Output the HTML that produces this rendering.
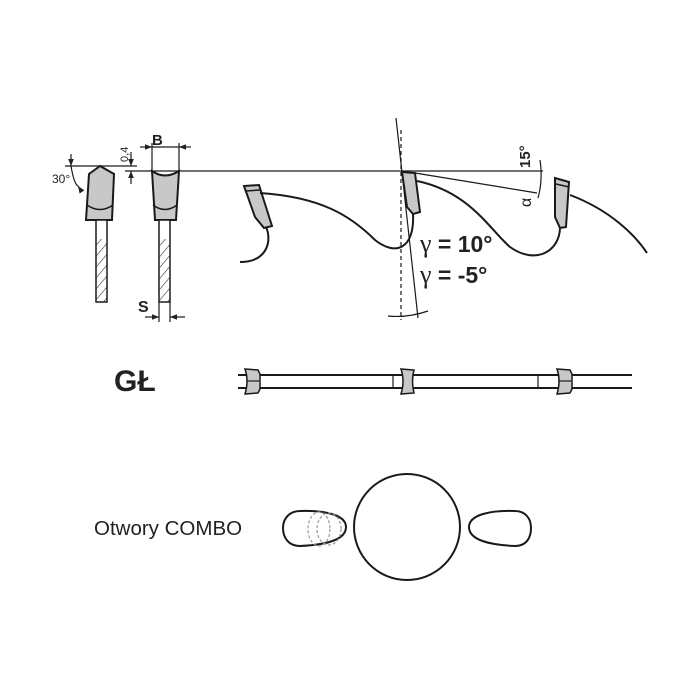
<!DOCTYPE html>
<html><head><meta charset="utf-8"><style>
html,body{margin:0;padding:0;background:#fff;width:700px;height:700px;overflow:hidden}
svg{display:block}
text{font-family:"Liberation Sans",sans-serif;fill:#222}
</style></head><body>
<svg width="700" height="700" viewBox="0 0 700 700" xmlns="http://www.w3.org/2000/svg">
<defs>
<pattern id="h" width="7" height="7" patternUnits="userSpaceOnUse" patternTransform="rotate(40)">
<line x1="0" y1="0" x2="0" y2="7" stroke="#333" stroke-width="1.2"/></pattern>
<marker id="a" viewBox="0 0 10 10" refX="10" refY="5" markerWidth="6" markerHeight="6" orient="auto-start-reverse"><path d="M0,1 L10,5 L0,9z" fill="#222"/></marker>
</defs>
<g stroke="#1a1a1a" fill="none" stroke-width="1.2">
<line x1="65" y1="166" x2="137" y2="166"/>
<line x1="125" y1="171" x2="543" y2="171"/>
<path d="M100,166 L89,174 L86,220 L112,220 L114,174 Z" fill="#c8c8c8" stroke-width="2"/>
<path d="M87,205 Q100,214 113,205" stroke-width="1.5"/>
<rect x="96" y="220" width="11" height="82" fill="#fff" stroke-width="1.5"/>
<rect x="96" y="239" width="11" height="63" fill="url(#h)" stroke="none"/>
<path d="M152,171 Q165,180 179,171 L176,220 L155,220 Z" fill="#c8c8c8" stroke-width="2"/>
<path d="M153,205 Q165,214 177,205" stroke-width="1.5"/>
<rect x="159" y="220" width="11" height="82" fill="#fff" stroke-width="1.5"/>
<rect x="159" y="239" width="11" height="63" fill="url(#h)" stroke="none"/>
<line x1="152" y1="143" x2="152" y2="171"/><line x1="179" y1="143" x2="179" y2="171"/>
<line x1="140" y1="147" x2="152" y2="147" marker-end="url(#a)"/><line x1="191" y1="147" x2="179" y2="147" marker-end="url(#a)"/>
<line x1="152" y1="147" x2="179" y2="147"/>
<line x1="131" y1="152" x2="131" y2="166" marker-end="url(#a)"/>
<line x1="131" y1="184" x2="131" y2="171" marker-end="url(#a)"/>
<line x1="71" y1="154" x2="71" y2="166" marker-end="url(#a)"/>
<path d="M71,166 Q74,184 78,186" />
<line x1="78" y1="186" x2="80" y2="189" marker-start="url(#a)"/>
<line x1="159" y1="302" x2="159" y2="322"/><line x1="170" y1="302" x2="170" y2="322"/>
<line x1="145" y1="317" x2="159" y2="317" marker-end="url(#a)"/><line x1="185" y1="317" x2="170" y2="317" marker-end="url(#a)"/>
<path d="M244,186 L259,185 L272,226 L264,228 L255,217 Z" fill="#c8c8c8" stroke-width="2"/>
<line x1="246" y1="191" x2="260" y2="190" stroke-width="1.5"/>
<path d="M266,227 C272,240 268,262 240,262" stroke-width="2"/>
<path d="M260,193 C320,197 350,215 375,240 C395,256 415,250 413,213" stroke-width="2"/>
<path d="M402,172 L415,173 L420,212 L413,214 L407,207 Z" fill="#c8c8c8" stroke-width="2"/>
<path d="M417,181 C470,192 490,230 510,247 C535,265 560,252 560,227" stroke-width="2"/>
<path d="M555,178 L569,182 L566,227 L560,228 L555,217 Z" fill="#c8c8c8" stroke-width="2"/>
<line x1="556" y1="184" x2="569" y2="187" stroke-width="1.5"/>
<path d="M570,195 C610,210 635,235 647,253" stroke-width="2"/>
<line x1="396" y1="118" x2="418" y2="318"/>
<line x1="401" y1="130" x2="401" y2="320" stroke-dasharray="4,3"/>
<path d="M388,316 Q408,318 428,311"/>
<line x1="415" y1="173" x2="537" y2="193"/>
<path d="M540,160 Q543,180 538,198"/>
<line x1="238" y1="375" x2="632" y2="375" stroke-width="2"/>
<line x1="238" y1="388" x2="632" y2="388" stroke-width="2"/>
<line x1="393" y1="375" x2="393" y2="388"/>
<line x1="538" y1="375" x2="538" y2="388"/>
<path d="M245,369 L258,370 L260,374 L260,389 L258,393 L245,394 Q249,381 245,369Z" fill="#c8c8c8" stroke-width="1.5"/>
<line x1="247" y1="381" x2="259" y2="381"/>
<path d="M401,369 L414,370 Q411,381 414,393 L401,394 Q405,381 401,369Z" fill="#c8c8c8" stroke-width="1.5"/>
<path d="M557,369 L570,370 L572,374 L572,389 L570,393 L557,394 Q561,381 557,369Z" fill="#c8c8c8" stroke-width="1.5"/>
<line x1="559" y1="381" x2="571" y2="381"/>
<circle cx="407" cy="527" r="53" stroke-width="2"/>
<path d="M300,511 C325,510 346,515 346,527 C346,540 325,545 300,546 C288,546 283,537 283,528 C283,518 290,511 300,511Z" stroke-width="2"/>
<path d="M515,511 C490,510 469,515 469,527 C469,540 490,545 515,546 C527,546 531,537 531,528 C531,518 525,511 515,511Z" stroke-width="2"/>
<g stroke="#999" stroke-dasharray="3,2">
<ellipse cx="319" cy="529" rx="11" ry="17"/><ellipse cx="329" cy="529" rx="12" ry="16"/>
</g>
</g>
<text x="152" y="145" font-size="15" font-weight="bold">B</text>
<text x="128" y="162" font-size="11" transform="rotate(-90 128 162)">0,4</text>
<text x="52" y="183" font-size="12">30°</text>
<text x="138" y="312" font-size="16" font-weight="bold">S</text>
<text x="530" y="168" font-size="15" font-weight="bold" transform="rotate(-90 530 168)">15°</text>
<text x="517" y="207" font-size="16" font-family="Liberation Serif" transform="rotate(-90 524 200)">α</text>
<text x="420" y="252" font-size="23" font-weight="bold"><tspan font-family="Liberation Serif" font-weight="normal" font-size="26">γ</tspan> = 10°</text>
<text x="420" y="283" font-size="23" font-weight="bold"><tspan font-family="Liberation Serif" font-weight="normal" font-size="26">γ</tspan> = -5°</text>
<text x="114" y="391" font-size="30" font-weight="bold">GŁ</text>
<text x="94" y="535" font-size="20.5">Otwory COMBO</text>
</svg>
</body></html>
